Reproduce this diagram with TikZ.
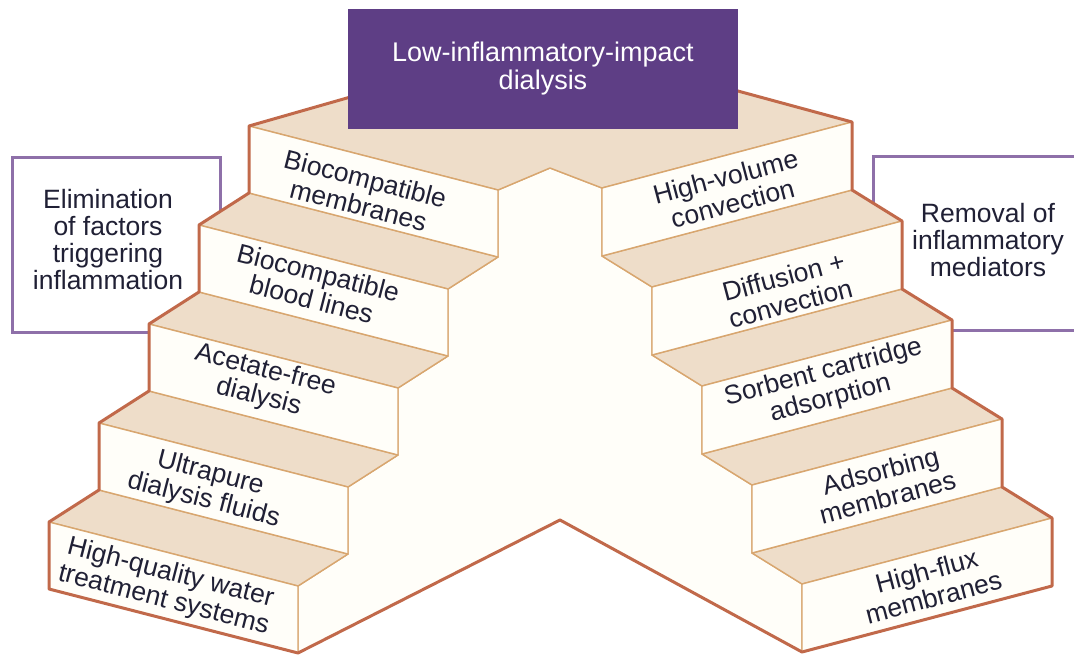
\documentclass[tikz,border=0pt]{standalone}
\usepackage{fontspec}
\setmainfont{Liberation Sans}
\definecolor{rust}{HTML}{C1694A}
\definecolor{tanl}{HTML}{D8A66F}
\definecolor{treadc}{HTML}{EEDDC9}
\definecolor{facec}{HTML}{FFFEF9}
\definecolor{boxpurple}{HTML}{5E3E85}
\definecolor{linepurple}{HTML}{8E70A9}
\definecolor{ink}{HTML}{202035}
\begin{document}
\begin{tikzpicture}[x=1pt,y=-1pt,
  treadface/.style={fill=treadc, draw=tanl, line width=1.4pt, line join=round},
  frontface/.style={fill=facec, draw=tanl, line width=1.4pt, line join=round},
  outeredge/.style={draw=rust, line width=3pt, line join=round},
  steplabel/.style={text=ink, font=\fontsize{26.5}{27.5}\selectfont, align=center, inner sep=0pt},
  sidelabel/.style={text=ink, font=\fontsize{26.5}{27}\selectfont, align=center, inner sep=0pt},
  sidebox/.style={draw=linepurple, line width=3pt, fill=white},
  titlebox/.style={fill=boxpurple, draw=none, text=white, font=\fontsize{27}{28}\selectfont, align=center, minimum width=390pt, minimum height=120pt, inner sep=0pt}]
\useasboundingbox (0,0) rectangle (1074,655);
\fill[white] (0,0) rectangle (1074,655);

% side boxes (behind the stairs)
\draw[sidebox] (12,158) rectangle (220,332);
\draw[sidebox] (873,157) rectangle (1090,330);
\node[sidelabel] (elim) at (108,240) {Elimination\\of factors\\triggering\\inflammation};
\node[sidelabel] (remov) at (988,240) {Removal of\\inflammatory\\mediators};

% side walls (base)
\path[frontface] (298,653) -- (298,586) -- (348,554) -- (348,487) -- (398,455) -- (398,388)
  -- (448,356) -- (448,289) -- (498,257) -- (498,190) -- (550,168) -- (602,188) -- (602,256)
  -- (652,287) -- (652,355) -- (702,386) -- (702,454) -- (752,485) -- (752,553) -- (802,584)
  -- (802,652) -- (560,520) -- cycle;

% left treads
\path[treadface] (49,522) -- (298,586) -- (348,554) -- (99,490) -- cycle;
\path[treadface] (99,423) -- (348,487) -- (398,455) -- (149,391) -- cycle;
\path[treadface] (149,324) -- (398,388) -- (448,356) -- (199,292) -- cycle;
\path[treadface] (199,225) -- (448,289) -- (498,257) -- (249,193) -- cycle;
% landing
\path[treadface] (249,126) -- (498,190) -- (550,168) -- (602,188) -- (852,122) -- (550,40) -- cycle;
% right treads
\path[treadface] (802,584) -- (1052,518) -- (1002,487) -- (752,553) -- cycle;
\path[treadface] (752,485) -- (1002,419) -- (952,388) -- (702,454) -- cycle;
\path[treadface] (702,386) -- (952,320) -- (902,289) -- (652,355) -- cycle;
\path[treadface] (652,287) -- (902,221) -- (852,190) -- (602,256) -- cycle;

% left front faces
\path[frontface] (49,522) -- (298,586) -- (298,653) -- (49,589) -- cycle;
\path[frontface] (99,423) -- (348,487) -- (348,554) -- (99,490) -- cycle;
\path[frontface] (149,324) -- (398,388) -- (398,455) -- (149,391) -- cycle;
\path[frontface] (199,225) -- (448,289) -- (448,356) -- (199,292) -- cycle;
\path[frontface] (249,126) -- (498,190) -- (498,257) -- (249,193) -- cycle;
% right front faces
\path[frontface] (802,584) -- (1052,518) -- (1052,586) -- (802,652) -- cycle;
\path[frontface] (752,485) -- (1002,419) -- (1002,487) -- (752,553) -- cycle;
\path[frontface] (702,386) -- (952,320) -- (952,388) -- (702,454) -- cycle;
\path[frontface] (652,287) -- (902,221) -- (902,289) -- (652,355) -- cycle;
\path[frontface] (602,188) -- (852,122) -- (852,190) -- (602,256) -- cycle;

% outer rust outline
\path[outeredge] (298,653) -- (49,589) -- (49,522) -- (99,490) -- (99,423) -- (149,391)
  -- (149,324) -- (199,292) -- (199,225) -- (249,193) -- (249,126) -- (550,40)
  -- (852,122) -- (852,190) -- (902,221) -- (902,289) -- (952,320) -- (952,388)
  -- (1002,419) -- (1002,487) -- (1052,518) -- (1052,586) -- (802,652) -- (560,520) -- cycle;

% step labels
\node[steplabel, rotate=-14.4] (l1) at (167,587) {High-quality water\\treatment systems};
\node[steplabel, rotate=-14.4] (l2) at (207,487) {Ultrapure\\dialysis fluids};
\node[steplabel, rotate=-14.4] (l3) at (262,384) {Acetate-free\\dialysis};
\node[steplabel, rotate=-14.4] (l4) at (315,286) {Biocompatible\\blood lines};
\node[steplabel, rotate=-14.4] (l5) at (362,192) {Biocompatible\\membranes};
\node[steplabel, rotate=14.8] (r5) at (729,190) {High-volume\\convection};
\node[steplabel, rotate=14.8] (r4) at (787,290) {Diffusion +\\convection};
\node[steplabel, rotate=14.8] (r3) at (827,386) {Sorbent cartridge\\adsorption};
\node[steplabel, rotate=14.8] (r2) at (884,484) {Adsorbing\\membranes};
\node[steplabel, rotate=14.8] (r1) at (930,584) {High-flux\\membranes};

% title box
\node[titlebox] (title) at (543,69) {Low-inflammatory-impact\\dialysis};
\end{tikzpicture}
\end{document}
